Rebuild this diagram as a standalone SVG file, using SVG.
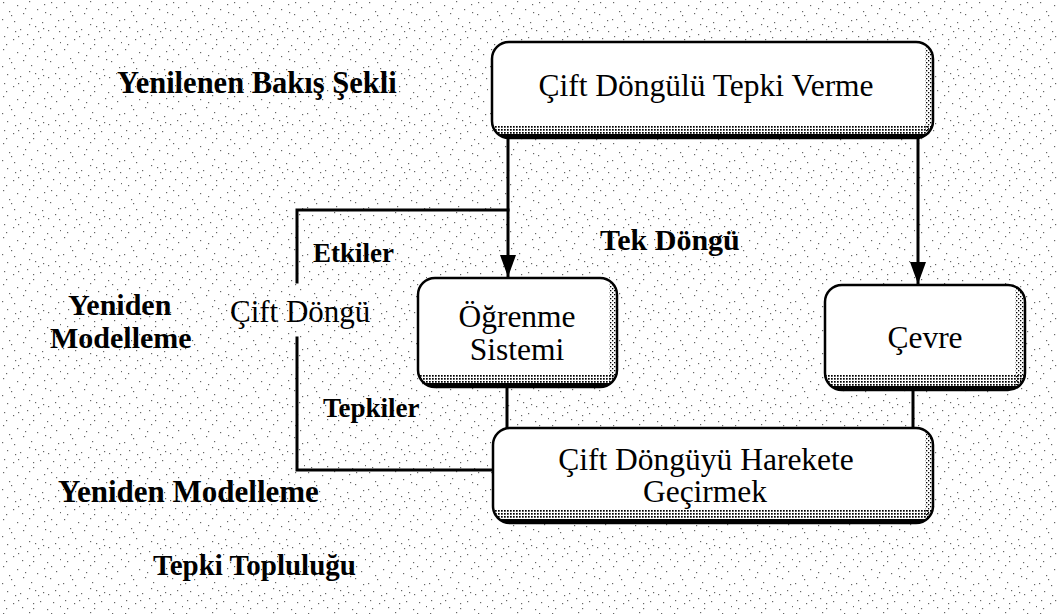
<svg xmlns="http://www.w3.org/2000/svg" xmlns:xlink="http://www.w3.org/1999/xlink" width="1057" height="614" viewBox="0 0 1057 614">
  <style>
    .box { fill: #ffffff; }
    .edge { fill: none; stroke: #000; stroke-width: 2.5; }
    .conn { fill: none; stroke: #000; stroke-width: 3; stroke-linecap: square; }
    .bt { font-family: "Liberation Serif", "DejaVu Serif", serif; font-size: 31.5px; fill: #000; text-anchor: middle; }
    .lbl { font-family: "Liberation Serif", "DejaVu Serif", serif; font-size: 30px; font-weight: bold; fill: #000; }
    .reg { font-family: "Liberation Serif", "DejaVu Serif", serif; font-size: 31px; fill: #000; }
    .d { fill: #000; }
  </style>
  <defs>
    <pattern id="bg" width="61" height="47" patternUnits="userSpaceOnUse">
      <g class="d">
        <rect x="3" y="2" width="1.2" height="1.2"/><rect x="17" y="5" width="1.2" height="1.2"/>
        <rect x="29" y="1" width="1.2" height="1.2"/><rect x="44" y="4" width="1.2" height="1.2"/>
        <rect x="56" y="7" width="1.2" height="1.2"/><rect x="9" y="11" width="1.2" height="1.2"/>
        <rect x="23" y="13" width="1.2" height="1.2"/><rect x="37" y="9" width="1.2" height="1.2"/>
        <rect x="50" y="14" width="1.2" height="1.2"/><rect x="2" y="19" width="1.2" height="1.2"/>
        <rect x="14" y="21" width="1.2" height="1.2"/><rect x="31" y="18" width="1.2" height="1.2"/>
        <rect x="42" y="22" width="1.2" height="1.2"/><rect x="58" y="20" width="1.2" height="1.2"/>
        <rect x="7" y="27" width="1.2" height="1.2"/><rect x="20" y="29" width="1.2" height="1.2"/>
        <rect x="35" y="26" width="1.2" height="1.2"/><rect x="48" y="30" width="1.2" height="1.2"/>
        <rect x="27" y="34" width="1.2" height="1.2"/><rect x="4" y="36" width="1.2" height="1.2"/>
        <rect x="13" y="39" width="1.2" height="1.2"/><rect x="40" y="37" width="1.2" height="1.2"/>
        <rect x="53" y="38" width="1.2" height="1.2"/><rect x="22" y="43" width="1.2" height="1.2"/>
        <rect x="33" y="44" width="1.2" height="1.2"/><rect x="47" y="45" width="1.2" height="1.2"/>
        <rect x="59" y="31" width="1.2" height="1.2"/><rect x="11" y="15" width="1.2" height="1.2"/>
        <rect x="38" y="31" width="1.2" height="1.2"/><rect x="55" y="26" width="1.2" height="1.2"/>
        <rect x="18" y="36" width="1.2" height="1.2"/><rect x="29" y="24" width="1.2" height="1.2"/>
        <rect x="45" y="12" width="1.2" height="1.2"/><rect x="6" y="44" width="1.2" height="1.2"/>
        <rect x="60" y="42" width="1.2" height="1.2"/><rect x="25" y="8" width="1.2" height="1.2"/>
        <rect x="51" y="2" width="1.2" height="1.2"/><rect x="33" y="39" width="1.2" height="1.2"/>
        <rect x="15" y="31" width="1.2" height="1.2"/><rect x="43" y="28" width="1.2" height="1.2"/>
      </g>
    </pattern>
    <pattern id="ht" width="3" height="3" patternUnits="userSpaceOnUse">
      <rect x="0" y="0" width="1.7" height="1.7" fill="#000"/>
    </pattern>
    <pattern id="htl" width="4" height="4" patternUnits="userSpaceOnUse">
      <rect x="0" y="0" width="1.3" height="1.3" fill="#000"/>
      <rect x="2" y="2" width="1.3" height="1.3" fill="#000"/>
    </pattern>
    <rect id="r-top" x="492" y="42" width="441" height="96" rx="17"/>
    <rect id="r-ogr" x="418" y="278" width="199" height="109" rx="17"/>
    <rect id="r-cev" x="825" y="285" width="200" height="105" rx="17"/>
    <rect id="r-bot" x="493" y="428" width="440" height="95" rx="17"/>
    <clipPath id="c-top"><use xlink:href="#r-top"/></clipPath>
    <clipPath id="c-ogr"><use xlink:href="#r-ogr"/></clipPath>
    <clipPath id="c-cev"><use xlink:href="#r-cev"/></clipPath>
    <clipPath id="c-bot"><use xlink:href="#r-bot"/></clipPath>
    <marker id="arr" markerUnits="userSpaceOnUse" markerWidth="22" markerHeight="16" refX="21" refY="8" orient="auto">
      <path d="M0,0 L22,8 L0,16 z" fill="#000"/>
    </marker>
  </defs>

  <rect x="0" y="0" width="1057" height="614" fill="#ffffff"/>
  <rect x="0" y="0" width="1057" height="614" fill="url(#bg)" opacity="0.6"/>

  <g id="connectors">
    <path class="conn" d="M508,140 V276" marker-end="url(#arr)"/>
    <path class="conn" d="M918,140 V283" marker-end="url(#arr)"/>
    <path class="conn" d="M508,210 H297 V282"/>
    <path class="conn" d="M297,338 V470 H492"/>
    <path class="conn" d="M507,388 V427"/>
    <path class="conn" d="M913,391 V427"/>
  </g>

  <g id="node-top">
    <use xlink:href="#r-top" class="box"/>
    <g clip-path="url(#c-top)">
      <rect x="492" y="125" width="441" height="13" fill="url(#ht)"/>
      <rect x="925" y="42" width="8" height="96" fill="url(#htl)"/>
      <rect x="492" y="134" width="441" height="4" fill="#000"/>
    </g>
    <use xlink:href="#r-top" class="edge"/>
    <text class="bt" x="706" y="96">Çift Döngülü Tepki Verme</text>
  </g>

  <g id="node-ogrenme">
    <use xlink:href="#r-ogr" class="box"/>
    <g clip-path="url(#c-ogr)">
      <rect x="418" y="374" width="199" height="13" fill="url(#ht)"/>
      <rect x="609" y="278" width="8" height="109" fill="url(#htl)"/>
      <rect x="418" y="383" width="199" height="4" fill="#000"/>
    </g>
    <use xlink:href="#r-ogr" class="edge"/>
    <text class="bt" x="517" y="327">Öğrenme</text>
    <text class="bt" x="517" y="360">Sistemi</text>
  </g>

  <g id="node-cevre">
    <use xlink:href="#r-cev" class="box"/>
    <g clip-path="url(#c-cev)">
      <rect x="825" y="375" width="200" height="15" fill="url(#ht)"/>
      <rect x="1015" y="285" width="10" height="105" fill="url(#htl)"/>
      <rect x="825" y="386" width="200" height="4" fill="#000"/>
    </g>
    <use xlink:href="#r-cev" class="edge"/>
    <text class="bt" x="925" y="348">Çevre</text>
  </g>

  <g id="node-bottom">
    <use xlink:href="#r-bot" class="box"/>
    <g clip-path="url(#c-bot)">
      <rect x="493" y="510" width="440" height="13" fill="url(#ht)"/>
      <rect x="925" y="428" width="8" height="95" fill="url(#htl)"/>
      <rect x="493" y="519" width="440" height="4" fill="#000"/>
    </g>
    <use xlink:href="#r-bot" class="edge"/>
    <text class="bt" x="706" y="470">Çift Döngüyü Harekete</text>
    <text class="bt" x="705" y="502">Geçirmek</text>
  </g>

  <g id="labels">
    <text class="lbl" x="117" y="93" style="font-size:30.5px">Yenilenen Bakış Şekli</text>
    <text class="lbl" x="313" y="262" style="font-size:27px">Etkiler</text>
    <text class="lbl" x="600" y="250">Tek Döngü</text>
    <text class="lbl" x="68" y="315">Yeniden</text>
    <text class="lbl" x="50" y="348">Modelleme</text>
    <text class="reg" x="230" y="322">Çift Döngü</text>
    <text class="lbl" x="323" y="417" style="font-size:27px">Tepkiler</text>
    <text class="lbl" x="58" y="502" style="font-size:31px">Yeniden Modelleme</text>
    <text class="lbl" x="153" y="575" style="font-size:29px">Tepki Topluluğu</text>
  </g>
</svg>
